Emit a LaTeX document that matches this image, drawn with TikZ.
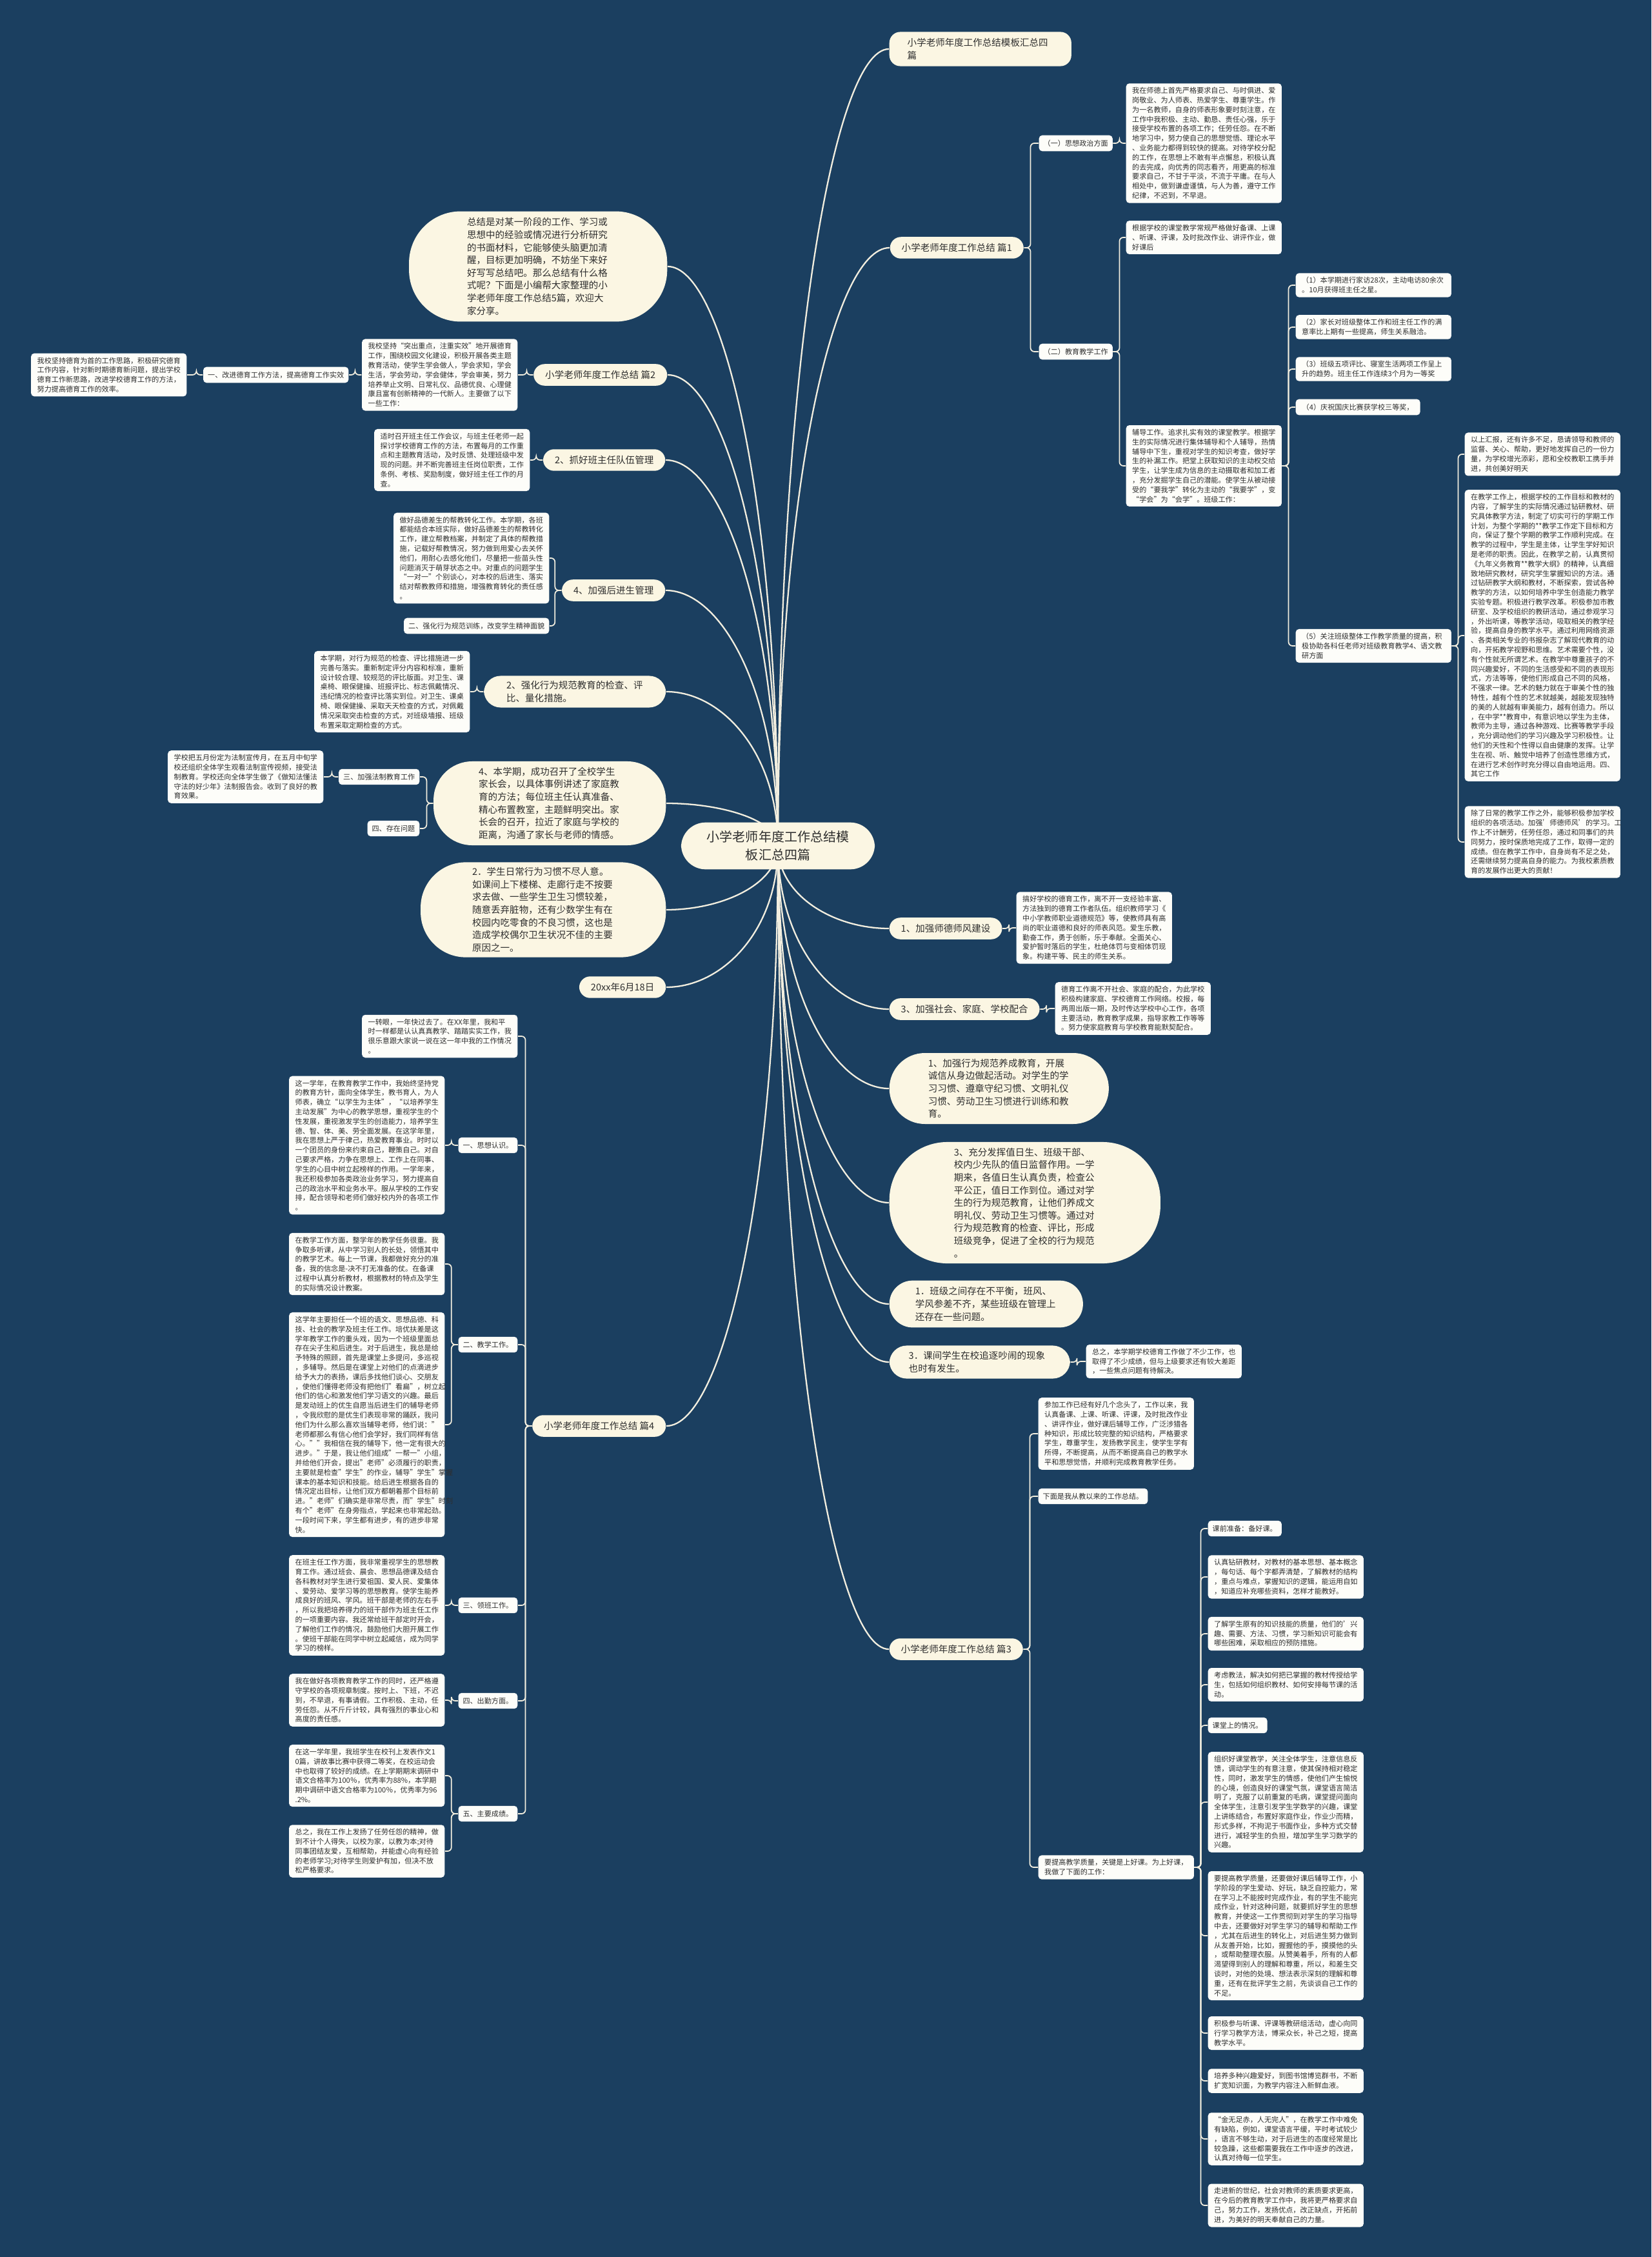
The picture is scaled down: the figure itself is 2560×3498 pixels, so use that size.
\documentclass[tikz,border=0pt]{standalone}
\usepackage{fontspec}
\setmainfont{Noto Sans CJK SC}
\usetikzlibrary{calc}
\definecolor{navy}{HTML}{1B3F60}
\definecolor{cream}{HTML}{FBF6E3}
\definecolor{paper}{HTML}{FDFDF9}
\definecolor{ink}{HTML}{2E2E2E}
\definecolor{wire}{HTML}{F2EEDF}
\newcommand{\rootfont}{\fontsize{5.69}{7.97}\selectfont}
\newcommand{\pillfont}{\fontsize{4.13}{5.58}\selectfont}
\newcommand{\boxfont}{\fontsize{3.16}{4.21}\selectfont}
\pgfdeclarelayer{bg}
\pgfdeclarelayer{edges}
\pgfsetlayers{bg,edges,main}

\begin{document}
\begin{tikzpicture}[
    x=0.01cm, y=-0.01cm,
    rootnode/.style={fill=cream, text=ink, font=\rootfont, align=center, rounded corners=0.38cm, inner xsep=0.4cm, inner ysep=0.13cm},
    topic/.style={fill=cream, text=ink, font=\pillfont, rounded corners=0.17cm, inner xsep=0.18cm, inner ysep=0.1cm},
    blob/.style={fill=cream, text=ink, font=\pillfont, align=left, text width=2.2cm},
    note/.style={fill=paper, text=ink, font=\boxfont, align=left, text width=2.22cm, rounded corners=0.05cm, inner xsep=0.095cm, inner ysep=0.06cm},
    tag/.style={fill=paper, text=ink, font=\boxfont, rounded corners=0.05cm, inner xsep=0.07cm, inner ysep=0.07cm},
    link/.style={draw=wire, line width=0.5pt, rounded corners=0.06cm},
    mainlink/.style={draw=wire, line width=0.65pt},
]
\useasboundingbox (0,0) rectangle (2560,3498);
\begin{pgfonlayer}{bg}
\fill[navy] (0,0) rectangle (2560,3498);
\end{pgfonlayer}

% centre
\node[rootnode] (ctr) at (1206,1311) {小学老师年度工作总结模\\板汇总四篇};

% right side, top
\node[topic, text width=2.26cm, align=left, inner xsep=0.28cm, anchor=west] (t0) at (1378,76) {小学老师年度工作总结模板汇总四\\篇};
\node[topic, anchor=west] (p1) at (1379,384) {小学老师年度工作总结 篇1};
\node[tag, anchor=west] (p1a) at (1610,222) {（一）思想政治方面};
\node[note, anchor=west] (p1an) at (1745,222) {我在师德上首先严格要求自己、与时俱进、爱\\岗敬业、为人师表、热爱学生、尊重学生。作\\为一名教师，自身的师表形象要时刻注意，在\\工作中我积极、主动、勤恳、责任心强，乐于\\接受学校布置的各项工作；任劳任怨。在不断\\地学习中，努力使自己的思想觉悟、理论水平\\、业务能力都得到较快的提高。对待学校分配\\的工作，在思想上不敢有半点懈怠，积极认真\\的去完成，向优秀的同志看齐，用更高的标准\\要求自己，不甘于平淡，不流于平庸。在与人\\相处中，做到谦虚谨慎，与人为善，遵守工作\\纪律，不迟到，不早退。};
\node[tag, anchor=west] (p1b) at (1610,545) {（二）教育教学工作};
\node[note, anchor=west] (p1c) at (1745,368) {根据学校的课堂教学常规严格做好备课、上课\\、听课、评课，及时批改作业、讲评作业，做\\好课后};
\node[note, anchor=west] (p1d) at (1745,722) {辅导工作。追求扎实有效的课堂教学。根据学\\生的实际情况进行集体辅导和个人辅导，热情\\辅导中下生，重视对学生的知识考查，做好学\\生的补漏工作。把堂上获取知识的主动权交给\\学生，让学生成为信息的主动摄取者和加工者\\，充分发掘学生自己的潜能。使学生从被动接\\受的“要我学”转化为主动的“我要学”，变\\“学会”为“会学”。班级工作：};
\node[note, anchor=west] (k1) at (2008,442) {（1）本学期进行家访28次，主动电访80余次\\。10月获得班主任之星。};
\node[note, anchor=west] (k2) at (2008,507) {（2）家长对班级整体工作和班主任工作的满\\意率比上期有一些提高，师生关系融洽。};
\node[note, anchor=west] (k3) at (2008,572) {（3）班级五项评比、寝室生活两项工作呈上\\升的趋势。班主任工作连续3个月为一等奖};
\node[tag, inner xsep=0.1cm, anchor=west] (k4) at (2008,631) {（4）庆祝国庆比赛获学校三等奖，};
\node[note, anchor=west] (k5) at (2008,1001) {（5）关注班级整体工作教学质量的提高，积\\极协助各科任老师对班级教育教学4、语文教\\研方面};
\node[note, anchor=west] (k5a) at (2270,704) {以上汇报，还有许多不足，恳请领导和教师的\\监督、关心、帮助，更好地发挥自己的一份力\\量，为学校增光添彩，愿和全校教职工携手并\\进，共创美好明天};
\node[note, anchor=west] (k5b) at (2270,985) {在教学工作上，根据学校的工作目标和教材的\\内容，了解学生的实际情况通过钻研教材、研\\究具体教学方法，制定了切实可行的学期工作\\计划，为整个学期的**教学工作定下目标和方\\向，保证了整个学期的教学工作顺利完成。在\\教学的过程中，学生是主体，让学生学好知识\\是老师的职责。因此，在教学之前，认真贯彻\\《九年义务教育**教学大纲》的精神，认真细\\致地研究教材，研究学生掌握知识的方法。通\\过钻研教学大纲和教材，不断探索，尝试各种\\教学的方法，以如何培养中学生创造能力教学\\实验专题。积极进行教学改革。积极参加市教\\研室、及学校组织的教研活动，通过参观学习\\，外出听课，等教学活动，吸取相关的教学经\\验，提高自身的教学水平。通过利用网络资源\\、各类相关专业的书报杂志了解现代教育的动\\向，开拓教学视野和思维。艺术需要个性，没\\有个性就无所谓艺术。在教学中尊重孩子的不\\同兴趣爱好，不同的生活感受和不同的表现形\\式，方法等等，使他们形成自己不同的风格，\\不强求一律。艺术的魅力就在于审美个性的独\\特性，越有个性的艺术就越美，越能发现独特\\的美的人就越有审美能力，越有创造力。所以\\，在中学**教育中，有意识地以学生为主体，\\教师为主导，通过各种游戏、比赛等教学手段\\，充分调动他们的学习兴趣及学习积极性。让\\他们的天性和个性得以自由健康的发挥。让学\\生在视、听、触觉中培养了创造性思维方式，\\在进行艺术创作时充分得以自由地运用。四、\\其它工作};
\node[note, anchor=west] (k5c) at (2270,1305) {除了日常的教学工作之外，能够积极参加学校\\组织的各项活动。加强'师德师风'的学习。工\\作上不计酬劳，任劳任怨，通过和同事们的共\\同努力，按时保质地完成了工作，取得一定的\\成绩。但在教学工作中，自身尚有不足之处，\\还需继续努力提高自身的能力。为我校素质教\\育的发展作出更大的贡献！};

% right side, middle
\node[topic, anchor=west] (ra) at (1378,1439) {1、加强师德师风建设};
\node[note, anchor=west] (ran) at (1575,1438) {搞好学校的德育工作，离不开一支经验丰富、\\方法独到的德育工作者队伍。组织教师学习《\\中小学教师职业道德规范》等，使教师具有高\\尚的职业道德和良好的师表风范。爱生乐教，\\勤奋工作，勇于创新，乐于奉献。全面关心、\\爱护暂时落后的学生，杜绝体罚与变相体罚现\\象。构建平等、民主的师生关系。};
\node[topic, anchor=west] (rb) at (1378,1564) {3、加强社会、家庭、学校配合};
\node[note, anchor=west] (rbn) at (1635,1563) {德育工作离不开社会、家庭的配合，为此学校\\积极构建家庭、学校德育工作网络。校报，每\\两周出版一期，及时传达学校中心工作，各项\\主要活动，教育教学成果，指导家教工作等等\\。努力使家庭教育与学校教育能默契配合。};
\node[blob, inner xsep=0.6cm, inner ysep=0.09cm, rounded corners=0.55cm, anchor=west] (rc) at (1378,1687) {1、加强行为规范养成教育，开展\\诚信从身边做起活动。对学生的学\\习习惯、遵章守纪习惯、文明礼仪\\习惯、劳动卫生习惯进行训练和教\\育。};
\node[blob, inner xsep=1.0cm, inner ysep=0.09cm, rounded corners=0.9cm, anchor=west] (rd) at (1378,1864) {3、充分发挥值日生、班级干部、\\校内少先队的值日监督作用。一学\\期来，各值日生认真负责，检查公\\平公正，值日工作到位。通过对学\\生的行为规范教育，让他们养成文\\明礼仪、劳动卫生习惯等。通过对\\行为规范教育的检查、评比，形成\\班级竞争，促进了全校的行为规范\\。};
\node[blob, inner xsep=0.4cm, inner ysep=0.1cm, rounded corners=0.36cm, anchor=west] (re) at (1378,2021) {1．班级之间存在不平衡，班风、\\学风参差不齐，某些班级在管理上\\还存在一些问题。};
\node[blob, inner xsep=0.3cm, inner ysep=0.09cm, rounded corners=0.27cm, anchor=west] (rf) at (1378,2111) {3．课间学生在校追逐吵闹的现象\\也时有发生。};
\node[note, anchor=west] (rfn) at (1683,2110) {总之，本学期学校德育工作做了不少工作，也\\取得了不少成绩，但与上级要求还有较大差距\\，一些焦点问题有待解决。};

% right side, bottom
\node[topic, anchor=west] (p3) at (1378,2556) {小学老师年度工作总结 篇3};
\node[note, anchor=west] (p3a) at (1609,2222) {参加工作已经有好几个念头了，工作以来，我\\认真备课、上课、听课、评课，及时批改作业\\、讲评作业，做好课后辅导工作，广泛涉猎各\\种知识，形成比较完整的知识结构，严格要求\\学生，尊重学生，发扬教学民主，使学生学有\\所得，不断提高，从而不断提高自己的教学水\\平和思想觉悟，并顺利完成教育教学任务。};
\node[tag, anchor=west] (p3b) at (1609,2319) {下面是我从教以来的工作总结。};
\node[note, anchor=west] (p3c) at (1609,2894) {要提高教学质量，关键是上好课。为上好课，\\我做了下面的工作：};
\node[tag, anchor=west] (q1) at (1872,2369) {课前准备：备好课。};
\node[note, anchor=west] (q2) at (1872,2444) {认真钻研教材，对教材的基本思想、基本概念\\，每句话、每个字都弄清楚，了解教材的结构\\，重点与难点，掌握知识的逻辑，能运用自如\\，知道应补充哪些资料，怎样才能教好。};
\node[note, anchor=west] (q3) at (1872,2532) {了解学生原有的知识技能的质量，他们的'兴\\趣、需要、方法、习惯，学习新知识可能会有\\哪些困难，采取相应的预防措施。};
\node[note, anchor=west] (q4) at (1872,2611) {考虑教法，解决如何把已掌握的教材传授给学\\生，包括如何组织教材、如何安排每节课的活\\动。};
\node[tag, anchor=west] (q5) at (1872,2674) {课堂上的情况。};
\node[note, anchor=west] (q6) at (1872,2793) {组织好课堂教学，关注全体学生，注意信息反\\馈，调动学生的有意注意，使其保持相对稳定\\性，同时，激发学生的情感，使他们产生愉悦\\的心境，创造良好的课堂气氛，课堂语言简洁\\明了，克服了以前重复的毛病，课堂提问面向\\全体学生，注意引发学生学数学的兴趣，课堂\\上讲练结合，布置好家庭作业，作业少而精，\\形式多样，不拘泥于书面作业，多种方式交替\\进行，减轻学生的负担，增加学生学习数学的\\兴趣。};
\node[note, anchor=west] (q7) at (1872,3000) {要提高教学质量，还要做好课后辅导工作，小\\学阶段的学生爱动、好玩，缺乏自控能力，常\\在学习上不能按时完成作业，有的学生不能完\\成作业，针对这种问题，就要抓好学生的思想\\教育，并使这一工作贯彻到对学生的学习指导\\中去，还要做好对学生学习的辅导和帮助工作\\，尤其在后进生的转化上，对后进生努力做到\\从友善开始，比如，握握他的手，摸摸他的头\\，或帮助整理衣服。从赞美着手，所有的人都\\渴望得到别人的理解和尊重，所以，和差生交\\谈时，对他的处境、想法表示深刻的理解和尊\\重，还有在批评学生之前，先谈谈自己工作的\\不足。};
\node[note, anchor=west] (q8) at (1872,3151) {积极参与听课、评课等教研组活动，虚心向同\\行学习教学方法，博采众长，补己之短，提高\\教学水平。};
\node[note, anchor=west] (q9) at (1872,3225) {培养多种兴趣爱好，到图书馆博览群书，不断\\扩宽知识面，为教学内容注入新鲜血液。};
\node[note, anchor=west] (q10) at (1872,3315) {“金无足赤，人无完人”，在教学工作中难免\\有缺陷，例如，课堂语言平缓，平时考试较少\\，语言不够生动，对于后进生的态度经常是比\\较急躁，这些都需要我在工作中逐步的改进，\\认真对待每一位学生。};
\node[note, anchor=west] (q11) at (1872,3418) {走进新的世纪，社会对教师的素质要求更高，\\在今后的教育教学工作中，我将更严格要求自\\己，努力工作，发扬优点，改正缺点，开拓前\\进，为美好的明天奉献自己的力量。};

% left side, top
\node[blob, inner xsep=0.9cm, inner ysep=0.1cm, rounded corners=0.8cm, anchor=east] (la) at (1035,413) {总结是对某一阶段的工作、学习或\\思想中的经验或情况进行分析研究\\的书面材料，它能够使头脑更加清\\醒，目标更加明确，不妨坐下来好\\好写写总结吧。那么总结有什么格\\式呢？下面是小编帮大家整理的小\\学老师年度工作总结5篇，欢迎大\\家分享。};
\node[topic, anchor=east] (p2) at (1035,581) {小学老师年度工作总结 篇2};
\node[note, anchor=east] (p2a) at (803,581) {我校坚持“突出重点，注重实效”地开展德育\\工作，围绕校园文化建设，积极开展各类主题\\教育活动，使学生学会做人，学会求知，学会\\生活，学会劳动，学会健体，学会审美，努力\\培养举止文明、日常礼仪、品德优良、心理健\\康且富有创新精神的一代新人。主要做了以下\\一些工作：};
\node[tag, anchor=east] (p2b) at (541,581) {一、改进德育工作方法，提高德育工作实效};
\node[note, anchor=east] (p2c) at (290,581) {我校坚持德育为首的工作思路，积极研究德育\\工作内容，针对新时期德育新问题，提出学校\\德育工作新思路，改进学校德育工作的方法，\\努力提高德育工作的效率。};
\node[topic, anchor=east] (lb) at (1032,713) {2、抓好班主任队伍管理};
\node[note, anchor=east] (lbn) at (822,713) {适时召开班主任工作会议，与班主任老师一起\\探讨学校德育工作的方法，布置每月的工作重\\点和主题教育活动，及时反馈、处理班级中发\\现的问题。并不断完善班主任岗位职责，工作\\条例、考核、奖励制度，做好班主任工作的月\\查。};
\node[topic, anchor=east] (lc) at (1032,915) {4、加强后进生管理};
\node[note, anchor=east] (lca) at (852,865) {做好品德差生的帮教转化工作。本学期，各班\\都能结合本班实际，做好品德差生的帮教转化\\工作，建立帮教档案，并制定了具体的帮教措\\施，记载好帮教情况，努力做到用爱心去关怀\\他们，用耐心去感化他们，尽量把一些苗头性\\问题消灭于萌芽状态之中。对重点的问题学生\\“一对一”个别谈心，对本校的后进生、落实\\结对帮教教师和措施，增强教育转化的责任感\\。};
\node[tag, anchor=east] (lcb) at (852,970) {二、强化行为规范训练，改变学生精神面貌};

% left side, middle
\node[blob, text width=2.12cm, inner xsep=0.35cm, inner ysep=0.08cm, rounded corners=0.26cm, anchor=east] (ld) at (1033,1072) {2、强化行为规范教育的检查、评\\比、量化措施。};
\node[note, anchor=east] (ldn) at (729,1072) {本学期，对行为规范的检查、评比措施进一步\\完善与落实。重新制定评分内容和标准，重新\\设计较合理、较规范的评比版面。对卫生、课\\桌椅、眼保健操、班报评比、标志佩戴情况、\\违纪情况的检查评比落实到位。对卫生、课桌\\椅、眼保健操、采取天天检查的方式，对佩戴\\情况采取突击检查的方式，对班级墙报、班级\\布置采取定期检查的方式。};
\node[blob, inner xsep=0.7cm, inner ysep=0.09cm, rounded corners=0.6cm, anchor=east] (le) at (1033,1245) {4、本学期，成功召开了全校学生\\家长会，以具体事例讲述了家庭教\\育的方法；每位班主任认真准备、\\精心布置教室，主题鲜明突出。家\\长会的召开，拉近了家庭与学校的\\距离，沟通了家长与老师的情感。};
\node[tag, anchor=east] (lea) at (651,1204) {三、加强法制教育工作};
\node[tag, anchor=east] (leb) at (651,1284) {四、存在问题};
\node[note, anchor=east] (lean) at (502,1204) {学校把五月份定为法制宣传月，在五月中旬学\\校还组织全体学生观看法制宣传视频，接受法\\制教育。学校还向全体学生做了《做知法懂法\\守法的好少年》法制报告会。收到了良好的教\\育效果。};
\node[blob, inner xsep=0.8cm, inner ysep=0.08cm, rounded corners=0.7cm, anchor=east] (lf) at (1033,1410) {2．学生日常行为习惯不尽人意。\\如课间上下楼梯、走廊行走不按要\\求去做、一些学生卫生习惯较差，\\随意丢弃脏物，还有少数学生有在\\校园内吃零食的不良习惯，这也是\\造成学校偶尔卫生状况不佳的主要\\原因之一。};
\node[topic, anchor=east] (lg) at (1033,1530) {20xx年6月18日};

% left side, bottom
\node[topic, anchor=east] (p4) at (1033,2210) {小学老师年度工作总结 篇4};
\node[note, anchor=east] (p4a) at (803,1606) {一转眼，一年快过去了。在XX年里，我和平\\时一样都是认认真真教学、踏踏实实工作，我\\很乐意跟大家说一说在这一年中我的工作情况\\。};
\node[tag, anchor=east] (p4b) at (803,1775) {一、思想认识。};
\node[note, anchor=east] (p4bn) at (690,1775) {这一学年，在教育教学工作中，我始终坚持党\\的教育方针，面向全体学生，教书育人，为人\\师表，确立“以学生为主体”，“以培养学生\\主动发展”为中心的教学思想，重视学生的个\\性发展，重视激发学生的创造能力，培养学生\\德、智、体、美、劳全面发展。在这学年里，\\我在思想上严于律己，热爱教育事业。时时以\\一个团员的身份来约束自己，鞭策自己。对自\\己要求严格，力争在思想上、工作上在同事、\\学生的心目中树立起榜样的作用。一学年来，\\我还积极参加各类政治业务学习，努力提高自\\己的政治水平和业务水平。服从学校的工作安\\排，配合领导和老师们做好校内外的各项工作\\。};
\node[tag, anchor=east] (p4c) at (803,2084) {二、教学工作。};
\node[note, anchor=east] (p4c1) at (690,1959) {在教学工作方面，整学年的教学任务很重。我\\争取多听课，从中学习别人的长处，领悟其中\\的教学艺术。每上一节课，我都做好充分的准\\备，我的信念是-决不打无准备的仗。在备课\\过程中认真分析教材，根据教材的特点及学生\\的实际情况设计教案。};
\node[note, anchor=east] (p4c2) at (690,2208) {这学年主要担任一个班的语文、思想品德、科\\技、社会的教学及班主任工作。培优扶差是这\\学年教学工作的重头戏，因为一个班级里面总\\存在尖子生和后进生。对于后进生，我总是给\\予特殊的照顾，首先是课堂上多提问，多巡视\\，多辅导。然后是在课堂上对他们的点滴进步\\给予大力的表扬，课后多找他们谈心、交朋友\\，使他们懂得老师没有把他们"看扁"，树立起\\他们的信心和激发他们学习语文的兴趣。最后\\是发动班上的优生自愿当后进生们的辅导老师\\，令我欣慰的是优生们表现非常的踊跃，我问\\他们为什么那么喜欢当辅导老师，他们说："\\老师都那么有信心他们会学好，我们同样有信\\心。""我相信在我的辅导下，他一定有很大的\\进步。"于是，我让他们组成"一帮一"小组，\\并给他们开会，提出"老师"必须履行的职责，\\主要就是检查"学生"的作业，辅导"学生"掌握\\课本的基本知识和技能。给后进生根据各自的\\情况定出目标，让他们双方都朝着那个目标前\\进。"老师"们确实是非常尽责，而"学生"时刻\\有个"老师"在身旁指点，学起来也非常起劲。\\一段时间下来，学生都有进步，有的进步非常\\快。};
\node[tag, anchor=east] (p4d) at (803,2488) {三、领班工作。};
\node[note, anchor=east] (p4dn) at (690,2488) {在班主任工作方面，我非常重视学生的思想教\\育工作。通过班会、晨会、思想品德课及结合\\各科教材对学生进行爱祖国、爱人民、爱集体\\、爱劳动、爱学习等的思想教育。使学生能养\\成良好的班风、学风。班干部是老师的左右手\\，所以我把培养得力的班干部作为班主任工作\\的一项重要内容。我还常给班干部定时开会，\\了解他们工作的情况，鼓励他们大胆开展工作\\。使班干部能在同学中树立起威信，成为同学\\学习的榜样。};
\node[tag, anchor=east] (p4e) at (803,2636) {四、出勤方面。};
\node[note, anchor=east] (p4en) at (690,2635) {我在做好各项教育教学工作的同时，还严格遵\\守学校的各项规章制度。按时上、下班，不迟\\到，不早退，有事请假。工作积极、主动，任\\劳任怨。从不斤斤计较，具有强烈的事业心和\\高度的责任感。};
\node[tag, anchor=east] (p4f) at (803,2811) {五、主要成绩。};
\node[note, anchor=east] (p4f1) at (690,2752) {在这一学年里，我班学生在校刊上发表作文1\\0篇，讲故事比赛中获得二等奖，在校运动会\\中也取得了较好的成绩。在上学期期末调研中\\语文合格率为100％，优秀率为88\%，本学期\\期中调研中语文合格率为100％，优秀率为96\\.2\%。};
\node[note, anchor=east] (p4f2) at (690,2869) {总之，我在工作上发扬了任劳任怨的精神，做\\到不计个人得失，以校为家，以教为本;对待\\同事团结友爱，互相帮助，并能虚心向有经验\\的老师学习;对待学生则爱护有加，但决不放\\松严格要求。};

% connectors
\begin{pgfonlayer}{edges}
\foreach \t in {t0,p1,ra,rb,rc,rd,re,rf,p3}
    \draw[mainlink] (ctr.center) .. controls ($(ctr.center)!0.6!(ctr.center |- \t.west)$) and ($(\t.west)!0.5!(ctr.center |- \t.west)$) .. (\t.west);
\foreach \t in {la,p2,lb,lc,ld,le,lf,lg,p4}
    \draw[mainlink] (ctr.center) .. controls ($(ctr.center)!0.6!(ctr.center |- \t.east)$) and ($(\t.east)!0.5!(ctr.center |- \t.east)$) .. (\t.east);
\foreach \a/\b in {p1/p1a,p1/p1b,p1a/p1an,p1b/p1c,p1b/p1d,p1d/k1,p1d/k2,p1d/k3,p1d/k4,p1d/k5,k5/k5a,k5/k5b,k5/k5c,ra/ran,rb/rbn,rf/rfn,p3/p3a,p3/p3b,p3/p3c,p3c/q1,p3c/q2,p3c/q3,p3c/q4,p3c/q5,p3c/q6,p3c/q7,p3c/q8,p3c/q9,p3c/q10,p3c/q11}
    \draw[link] (\a.east) -- ++(10,0) |- (\b.west);
\foreach \a/\b in {p2/p2a,p2a/p2b,p2b/p2c,lb/lbn,lc/lca,lc/lcb,ld/ldn,le/lea,le/leb,lea/lean,p4/p4a,p4/p4b,p4/p4c,p4/p4d,p4/p4e,p4/p4f,p4b/p4bn,p4c/p4c1,p4c/p4c2,p4d/p4dn,p4e/p4en,p4f/p4f1,p4f/p4f2}
    \draw[link] (\a.west) -- ++(-10,0) |- (\b.east);
\end{pgfonlayer}

\end{tikzpicture}
\end{document}
